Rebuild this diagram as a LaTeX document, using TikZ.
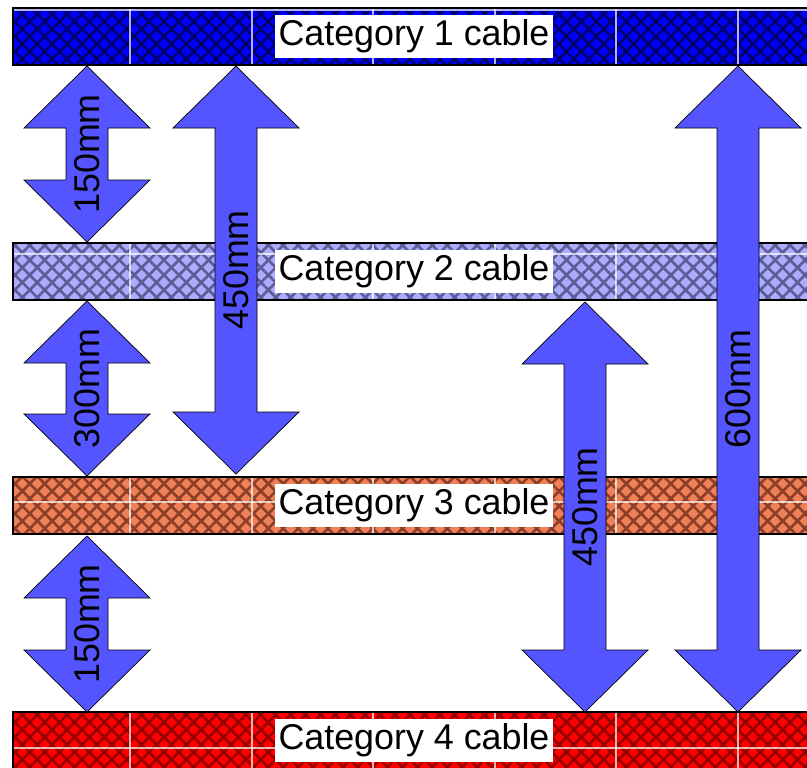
\documentclass[tikz,border=0pt]{standalone}
\usepackage{fontspec}
\setmainfont{Liberation Sans}
\usetikzlibrary{calc,patterns.meta}
\definecolor{catone}{RGB}{0,0,250}
\definecolor{cattwo}{RGB}{172,172,255}
\definecolor{catthree}{RGB}{240,128,88}
\definecolor{catfour}{RGB}{255,0,0}
\definecolor{hatchone}{RGB}{0,0,110}
\definecolor{hatchtwo}{RGB}{92,92,150}
\definecolor{hatchthree}{RGB}{140,62,40}
\definecolor{hatchfour}{RGB}{150,0,0}
\definecolor{gapblue}{RGB}{85,85,255}
\tikzset{
  hatchne/.style={pattern={Lines[angle=45,distance=6pt,line width=1.5pt]},pattern color=#1},
  hatchnw/.style={pattern={Lines[angle=-45,distance=6pt,line width=1.5pt]},pattern color=#1},
  gridline/.style={white,opacity=0.7,line width=0.6pt},
  cablelabel/.style={fill=white,inner xsep=2pt,inner ysep=3pt,font=\fontsize{20.4}{22}\selectfont},
  gap/.style={draw=black,line width=0.4pt,fill=gapblue},
  gaplabel/.style={rotate=90,inner sep=0pt,font=\fontsize{20.4}{22}\selectfont}
}
\begin{document}
\begin{tikzpicture}[x=0.02cm,y=-0.02cm]
\useasboundingbox (0,0) rectangle (807,767);
\clip (0,0) rectangle (807,767);
\foreach \ytop/\basecol/\hatch/\yline/\num in {8/catone/hatchone/10/1,243/cattwo/hatchtwo/254/2,477/catthree/hatchthree/502/3,712/catfour/hatchfour/748/4}{
  \fill[\basecol] (13,\ytop) rectangle (820,\ytop+57);
  \fill[hatchne=\hatch] (13,\ytop) rectangle (820,\ytop+57);
  \fill[hatchnw=\hatch] (13,\ytop) rectangle (820,\ytop+57);
  \foreach \x in {130,252,373,495,616,738}
    \draw[gridline] (\x,\ytop) -- (\x,\ytop+57);
  \draw[gridline] (13,\yline) -- (820,\yline);
  \draw[line width=0.6pt] (13,\ytop) rectangle (820,\ytop+57);
  \node[cablelabel] (cat\num) at (414,\ytop+28.5) {Category \num\ cable};
}
\foreach \cx/\ya/\yb/\lab [count=\i] in {87/66/242/150mm,236/66/474/450mm,87/301/476/300mm,87/536/712/150mm,585/302/712/450mm,738/66/712/600mm}{
  \draw[gap] (\cx,\ya) -- ++(63,62) -- ++(-42,0) -- (\cx+21,\yb-62) -- ++(42,0)
    -- (\cx,\yb) -- ++(-63,-62) -- ++(42,0) -- (\cx-21,\ya+62) -- ++(-42,0) -- cycle;
  \node[gaplabel] (gap\i) at (\cx,{(\ya+\yb)/2}) {\lab};
}
\end{tikzpicture}
\end{document}
